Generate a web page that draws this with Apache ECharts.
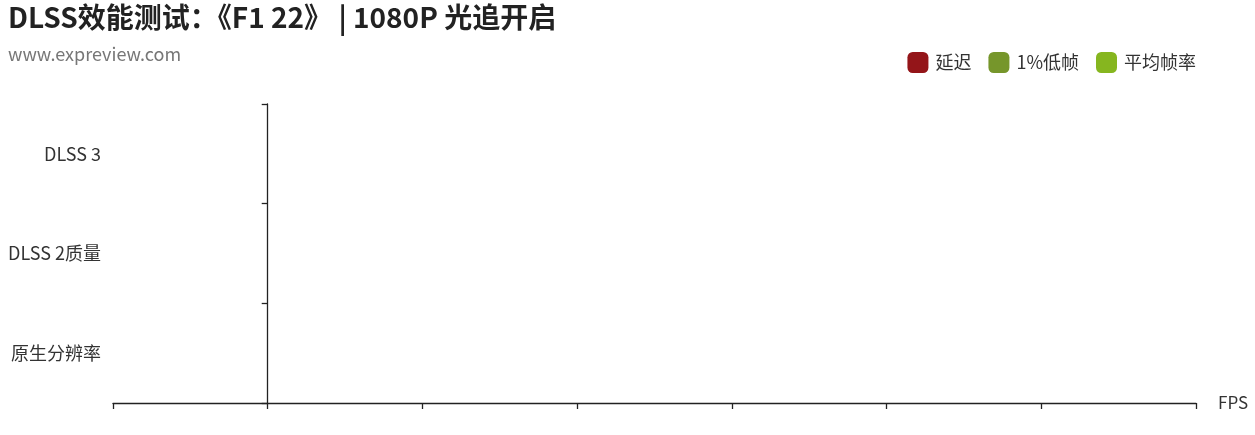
<!DOCTYPE html>
<html><head><meta charset="utf-8">
<script src="https://cdn.jsdelivr.net/npm/echarts@6/dist/echarts.min.js"></script>
<style>html,body{margin:0;padding:0;background:#fff}#c{width:1255px;height:435px}</style>
</head><body><div id="c"></div>
<script>
const categories = ['原生分辨率', 'DLSS 2质量', 'DLSS 3'];
const seriesNames = ['延迟', '1%低帧', '平均帧率'];
const latency = [null, null, null];
const low1 = [null, null, null];
const avgFps = [null, null, null];
const colors = ['#941519', '#76962b', '#86b61f'];
const xMin = -20, xMax = 120, xInterval = 20;

const font = '"Noto Sans CJK SC", "Noto Sans", sans-serif';
const chart = echarts.init(document.getElementById('c'));
chart.setOption({
  animation: false,
  textStyle: {fontFamily: font},
  title: {
    text: 'DLSS效能测试：《F1 22》 | 1080P 光追开启',
    subtext: 'www.expreview.com',
    left: 3, top: -2,
    itemGap: 14,
    textStyle: {fontFamily: font, fontSize: 28, fontWeight: 'bold', color: '#222'},
    subtextStyle: {fontFamily: font, fontSize: 18, color: '#777'}
  },
  legend: {
    data: seriesNames,
    right: 54, top: 47,
    icon: 'roundRect', itemWidth: 21, itemHeight: 21, itemGap: 17,
    textStyle: {fontFamily: font, fontSize: 18, color: '#333', padding: [0, 0, 0, 2]}
  },
  grid: {left: 113, right: 59, top: 104, bottom: 32, containLabel: false},
  xAxis: {
    type: 'value', min: xMin, max: xMax, interval: xInterval,
    name: 'FPS', nameLocation: 'end', nameGap: 22,
    nameTextStyle: {fontFamily: font, fontSize: 17, color: '#333', verticalAlign: 'middle'},
    axisLine: {show: true, lineStyle: {color: '#222', width: 1.3}},
    axisTick: {show: true, length: 6, lineStyle: {color: '#222', width: 1.3}},
    axisLabel: {show: false},
    splitLine: {show: false}
  },
  yAxis: [{
    type: 'category', data: categories,
    axisLine: {show: true, onZero: true, lineStyle: {color: '#222', width: 1.3}},
    axisTick: {show: true, length: 6, lineStyle: {color: '#222', width: 1.3}},
    axisLabel: {show: false}
  }, {
    type: 'category', data: categories, position: 'left',
    axisLine: {show: false, onZero: false},
    axisTick: {show: false},
    axisLabel: {show: true, margin: 12, fontFamily: font, fontSize: 18, color: '#333'}
  }],
  series: [
    {name: seriesNames[0], type: 'bar', data: latency, itemStyle: {color: colors[0]}},
    {name: seriesNames[1], type: 'bar', data: low1, itemStyle: {color: colors[1]}},
    {name: seriesNames[2], type: 'bar', data: avgFps, itemStyle: {color: colors[2]}}
  ]
});
</script></body></html>
